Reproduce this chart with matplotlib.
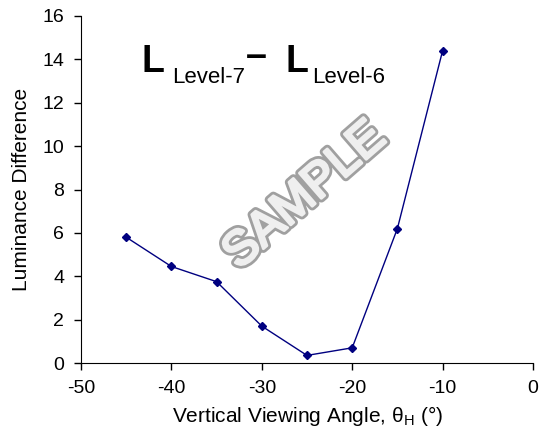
import matplotlib
matplotlib.use("Agg")
import matplotlib.pyplot as plt
import matplotlib.patheffects as pe

# data
angle = [-45, -40, -35, -30, -25, -20, -15, -10]
lum_diff = [5.8, 4.45, 3.75, 1.7, 0.35, 0.7, 6.2, 14.4]
xticks = [-50, -40, -30, -20, -10, 0]
yticks = [0, 2, 4, 6, 8, 10, 12, 14, 16]

plt.rcParams['font.family'] = ['Liberation Sans', 'DejaVu Sans']
plt.rcParams['axes.unicode_minus'] = False
plt.rcParams['mathtext.fontset'] = 'custom'
plt.rcParams['mathtext.rm'] = 'Liberation Sans'

fig = plt.figure(figsize=(5.47, 4.47), dpi=100)
ax = fig.add_axes([81/547, 1-363/447, (533-81)/547, (363-16)/447])

ax.plot(angle, lum_diff, color="#000080", lw=1.0, marker="D", ms=4, mfc="#000080", mec="#000080")
ax.set_xlim(-50, 0); ax.set_ylim(0, 16)
ax.set_xticks(xticks); ax.set_yticks(yticks)
for s in ["top", "right"]:
    ax.spines[s].set_visible(False)
ax.tick_params(direction="out", length=5, width=1, labelsize=14, pad=7)
ax.set_xlabel("Vertical Viewing Angle, θ$_{\\rm H}$ (°)", fontsize=15, labelpad=5)
ax.set_ylabel("Luminance Difference", fontsize=15, labelpad=8)

# title built from pieces, placed in figure pixel coords
def px(x, y):
    return x/547, 1-y/447
fig.text(*px(142, 72), "L", fontsize=27, fontweight="bold", va="baseline")
fig.text(*px(172, 83), "Level-7", fontsize=16, va="baseline")
fig.text(*px(246, 67), "–", fontsize=27, fontweight="bold", va="baseline")
fig.text(*px(286, 72), "L", fontsize=27, fontweight="bold", va="baseline")
fig.text(*px(312, 83), "Level-6", fontsize=16, va="baseline")

# watermark: hollow outlined letters
t = fig.text(*px(305, 196), "SAMPLE", fontsize=35, rotation=41, color="#efefef",
             ha="center", va="center")
t.set_path_effects([pe.withStroke(linewidth=6, foreground="#a0a0a0"),
                    pe.withStroke(linewidth=2, foreground="#efefef"),
                    pe.Normal()])

fig.savefig("out.png", dpi=100)
